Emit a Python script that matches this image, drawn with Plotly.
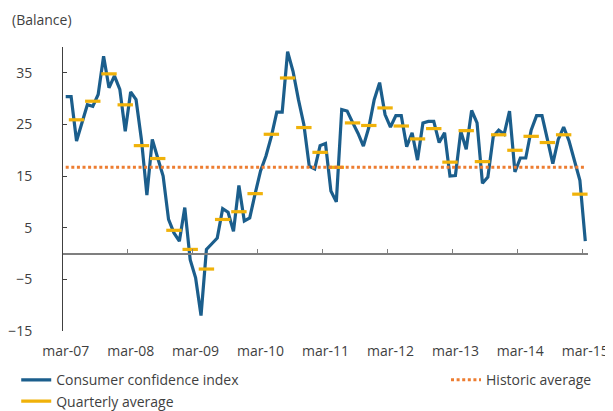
import plotly.graph_objects as go

# ---- data ----
tick_labels = ["mar-07", "mar-08", "mar-09", "mar-10", "mar-11",
               "mar-12", "mar-13", "mar-14", "mar-15"]

confidence = [
    30.4, 30.4, 21.8, 25.5, 28.8, 28.5, 30.8, 38.2, 32.1, 34.4, 31.8, 23.7,
    31.3, 29.8, 22.0, 11.3, 22.1, 18.5, 15.0, 6.6, 4.0, 2.4, 8.9, -1.2,
    -4.7, -12.0, 0.8, 1.9, 3.0, 8.7, 8.0, 4.3, 13.2, 6.3, 6.9, 11.6,
    16.0, 18.9, 22.7, 27.4, 27.4, 39.1, 35.3, 29.8, 25.0, 16.9, 16.4, 20.9,
    21.3, 12.1, 10.0, 27.9, 27.6, 25.4, 23.3, 20.8, 24.4, 29.8, 33.1, 26.9,
    24.5, 26.7, 26.7, 20.7, 23.4, 18.1, 25.3, 25.6, 25.6, 21.5, 23.4, 15.0,
    15.1, 23.7, 20.2, 27.7, 25.3, 13.6, 14.8, 22.7, 23.9, 23.1, 27.6, 15.8,
    18.5, 18.5, 23.9, 26.7, 26.7, 22.1, 17.4, 22.1, 24.5, 21.8, 18.2, 14.2,
    2.4,
]

quarterly = [
    25.9, 29.5, 34.8, 28.8, 20.9, 18.4, 4.5, 0.8,
    -3.0, 6.6, 8.1, 11.6, 23.1, 34.0, 24.4, 19.6,
    16.7, 25.3, 24.8, 28.2, 24.7, 22.2, 24.2, 17.7,
    23.8, 17.8, 23.0, 20.0, 22.7, 21.5, 23.0, 11.5,
]

historic_average = 16.7

# ---- derived positions (category indices) ----
months = list(range(len(confidence)))
quarter_idx = [2 + 3 * k for k in range(len(quarterly))]
label_idx = [12 * k for k in range(len(tick_labels))]
boundary_idx = [12 * k - 0.5 for k in range(len(tick_labels))]

BLUE = "#1B5E8C"
GOLD = "#F0B20A"
ORANGE = "#ED7D31"
TXT = "#3F3F3F"
FONT = "Open Sans"

fig = go.Figure()

fig.add_trace(go.Scatter(
    x=months, y=[historic_average] * len(months), xaxis="x2",
    mode="lines", line=dict(color=ORANGE, width=3, dash="3px,2.6px"),
    name="Historic average", legend="legend2", hoverinfo="skip"))

fig.add_trace(go.Scatter(
    x=months, y=confidence, mode="lines",
    line=dict(color=BLUE, width=3.2),
    name="Consumer confidence index", legend="legend"))

fig.add_trace(go.Scatter(
    x=quarter_idx, y=quarterly, mode="markers",
    marker=dict(symbol="line-ew", size=11, color=GOLD,
                line=dict(color=GOLD, width=3.2)),
    name="Quarterly average", showlegend=False))

# legend-only entry for quarterly average (drawn as a line)
fig.add_trace(go.Scatter(
    x=[None], y=[None], mode="lines",
    line=dict(color=GOLD, width=3.2),
    name="Quarterly average", legend="legend"))

xr = [-0.5, len(months) - 0.5]
yr = [-15, 40]
zero_pos = (0 - yr[0]) / (yr[1] - yr[0])

# page body has an 8px margin, so the figure is sized to fit the window
fig.update_layout(
    width=605, height=403,
    margin=dict(l=55, r=25, t=39, b=80, autoexpand=False),
    paper_bgcolor="white", plot_bgcolor="white",
    font=dict(family=FONT, size=14, color=TXT),
    xaxis=dict(range=xr, tickvals=label_idx, ticktext=tick_labels,
               showgrid=False, zeroline=False, showline=False,
               ticks="", ticklabelstandoff=10, automargin=False,
               tickfont=dict(size=14, color=TXT)),
    xaxis2=dict(range=xr, overlaying="x", anchor="free", position=zero_pos,
                side="bottom", tickvals=boundary_idx, showticklabels=False,
                ticks="inside", ticklen=4, tickcolor="#7F7F7F", tickwidth=1,
                showline=True, linecolor="#7F7F7F", linewidth=1.5,
                showgrid=False, zeroline=False, automargin=False),
    yaxis=dict(range=yr, tickvals=[-15, -5, 5, 15, 25, 35],
               showgrid=False, zeroline=False, automargin=False,
               showline=True, linecolor="#404040", linewidth=1,
               ticks="inside", ticklen=4, tickcolor="#404040",
               ticklabelstandoff=27, tickfont=dict(size=14, color=TXT)),
    legend=dict(xref="container", yref="container",
                x=0.0136, xanchor="left", y=0.116, yanchor="top",
                orientation="v", font=dict(size=14, color=TXT),
                bgcolor="rgba(0,0,0,0)", tracegroupgap=0),
    legend2=dict(xref="container", yref="container",
                 x=0.724, xanchor="left", y=0.116, yanchor="top",
                 orientation="v", font=dict(size=14, color=TXT),
                 bgcolor="rgba(0,0,0,0)"),
    annotations=[dict(text="(Balance)", xref="paper", yref="paper",
                      x=0, y=1, xshift=-53, yshift=28,
                      xanchor="left", yanchor="middle", showarrow=False,
                      font=dict(size=14, color=TXT))],
    showlegend=True,
)

fig.write_html("out.html")
